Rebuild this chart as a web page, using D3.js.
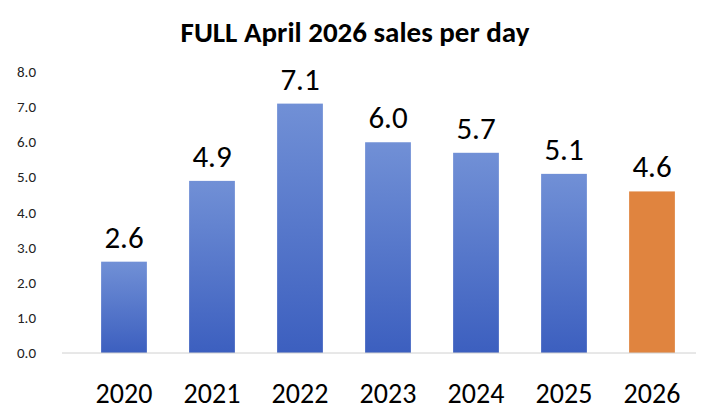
<!DOCTYPE html>
<html><head><meta charset="utf-8">
<script src="https://cdn.jsdelivr.net/npm/d3@7"></script>
<style>body{margin:0;background:#fff}</style></head>
<body><svg id="c" width="710" height="416"></svg>
<script>
const categories=["2020","2021","2022","2023","2024","2025","2026"];
const values=[2.6,4.9,7.1,6.0,5.7,5.1,4.6];
const yTicks=[0,1,2,3,4,5,6,7,8];
const svg=d3.select("#c");
const font="Calibri, Carlito, 'Open Sans', sans-serif";
const x=d3.scaleBand().domain(categories).range([80,696]).paddingInner(0.48).paddingOuter(0.24);
const y=d3.scaleLinear().domain([0,8]).range([353,72]);
const defs=svg.append("defs");
const g=defs.append("linearGradient").attr("id","bg").attr("x1",0).attr("y1",0).attr("x2",0).attr("y2",1);
g.append("stop").attr("offset","0%").attr("stop-color","#7190d6");
g.append("stop").attr("offset","100%").attr("stop-color","#3c5fbf");
svg.append("text").attr("x",355).attr("y",42).attr("text-anchor","middle").attr("font-family",font).attr("font-weight","bold").attr("font-size",29).text("FULL April 2026 sales per day");
svg.selectAll(".yt").data(yTicks).join("text").attr("x",36).attr("y",d=>y(d)+5).attr("text-anchor","end").attr("font-family",font).attr("font-size",15).attr("fill","#222").text(d=>d.toFixed(1));
svg.selectAll(".bar").data(values).join("rect").attr("x",(d,i)=>x(categories[i])).attr("width",x.bandwidth()).attr("y",d=>y(d)).attr("height",d=>y(0)-y(d)).attr("fill",(d,i)=>i===6?"#e0843f":"url(#bg)");
svg.append("line").attr("x1",62).attr("x2",696).attr("y1",y(0)).attr("y2",y(0)).attr("stroke","#d0d0d0").attr("stroke-width",1);
svg.selectAll(".vl").data(values).join("text").attr("x",(d,i)=>x(categories[i])+x.bandwidth()/2).attr("y",d=>y(d)-14).attr("text-anchor","middle").attr("font-family",font).attr("font-size",31).text(d=>d.toFixed(1));
svg.selectAll(".xl").data(categories).join("text").attr("x",d=>x(d)+x.bandwidth()/2).attr("y",403).attr("text-anchor","middle").attr("font-family",font).attr("font-size",28).text(d=>d);
</script></body></html>
